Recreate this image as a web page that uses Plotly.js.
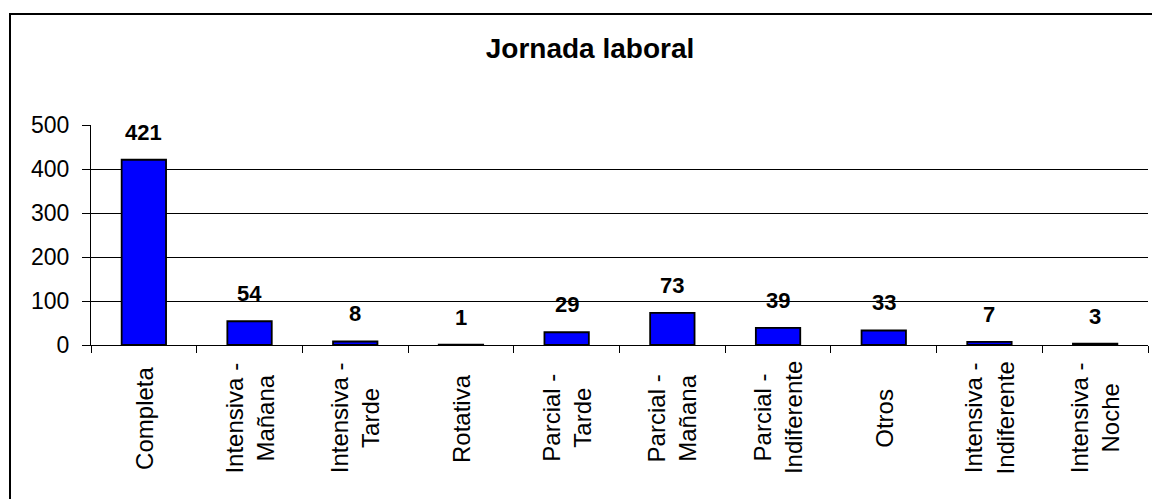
<!DOCTYPE html>
<html>
<head>
<meta charset="utf-8">
<script src="https://cdn.plot.ly/plotly-3.0.1.min.js"></script>
<style>
  html, body { margin: 0; padding: 0; background: #fff; }
  #wrap { position: relative; width: 1152px; height: 499px; overflow: hidden; }
  #frame { position: absolute; left: 9px; top: 13px; width: 1200px; height: 600px;
           border-left: 2px solid #000; border-top: 2px solid #000; pointer-events: none; }
  #chart { position: absolute; left: 0; top: 0; width: 1152px; height: 499px; }
</style>
</head>
<body>
<div id="wrap">
  <div id="chart"></div>
  <div id="frame"></div>
</div>
<script>
const categories = [
  "Completa",
  "Intensiva -<br>Mañana",
  "Intensiva -<br>Tarde",
  "Rotativa",
  "Parcial -<br>Tarde",
  "Parcial -<br>Mañana",
  "Parcial -<br>Indiferente",
  "Otros",
  "Intensiva -<br>Indiferente",
  "Intensiva -<br>Noche"
];
const values = [421, 54, 8, 1, 29, 73, 39, 33, 7, 3];
const yTickValues = [0, 100, 200, 300, 400, 500];
const chartTitle = "Jornada laboral";

const FONT = "Liberation Sans, Arial, sans-serif";
const catIds = categories.map((c, i) => "c" + i);

const trace = {
  type: "bar",
  x: catIds,
  y: values,
  marker: { color: "#0000FF", line: { color: "#000000", width: 1.8 } },
  hoverinfo: "skip"
};

const annotations = [];
values.forEach((v, i) => {
  annotations.push({
    x: catIds[i], y: v, xref: "x", yref: "y",
    text: "<b>" + v + "</b>", showarrow: false,
    yanchor: "bottom", yshift: 13,
    font: { family: FONT, size: 22, color: "#000" }
  });
});
categories.forEach((c, i) => {
  annotations.push({
    x: catIds[i], y: -0.332, xref: "x", yref: "paper",
    text: c, showarrow: false, textangle: -90,
    xanchor: "center", yanchor: "middle", align: "center",
    font: { family: FONT, size: 24, color: "#000" }
  });
});

const layout = {
  width: 1152, height: 499,
  margin: { l: 91, r: 4, t: 125, b: 154 },
  paper_bgcolor: "#ffffff", plot_bgcolor: "#ffffff",
  showlegend: false,
  bargap: 0.58,
  title: {
    text: "<b>" + chartTitle + "</b>",
    font: { family: FONT, size: 28, color: "#000" },
    x: 590 / 1152, xanchor: "center", xref: "container",
    y: 1 - 48 / 499, yanchor: "middle", yref: "container"
  },
  xaxis: {
    type: "category",
    showticklabels: false,
    ticks: "outside", tickson: "boundaries", ticklen: 7, tickcolor: "#000", tickwidth: 1,
    showline: true, linecolor: "#000", linewidth: 1,
    showgrid: false, zeroline: false, fixedrange: true
  },
  yaxis: {
    range: [0, 500],
    tickvals: yTickValues,
    ticktext: yTickValues.map(String),
    ticks: "outside", ticklen: 8, tickcolor: "#000", tickwidth: 1,
    ticklabelstandoff: 8,
    tickfont: { family: FONT, size: 23, color: "#000" },
    showline: true, linecolor: "#000", linewidth: 1,
    showgrid: true, gridcolor: "#000", gridwidth: 1,
    zeroline: false, fixedrange: true
  },
  annotations: annotations
};

Plotly.newPlot("chart", [trace], layout, { displayModeBar: false, staticPlot: true });
</script>
</body>
</html>
